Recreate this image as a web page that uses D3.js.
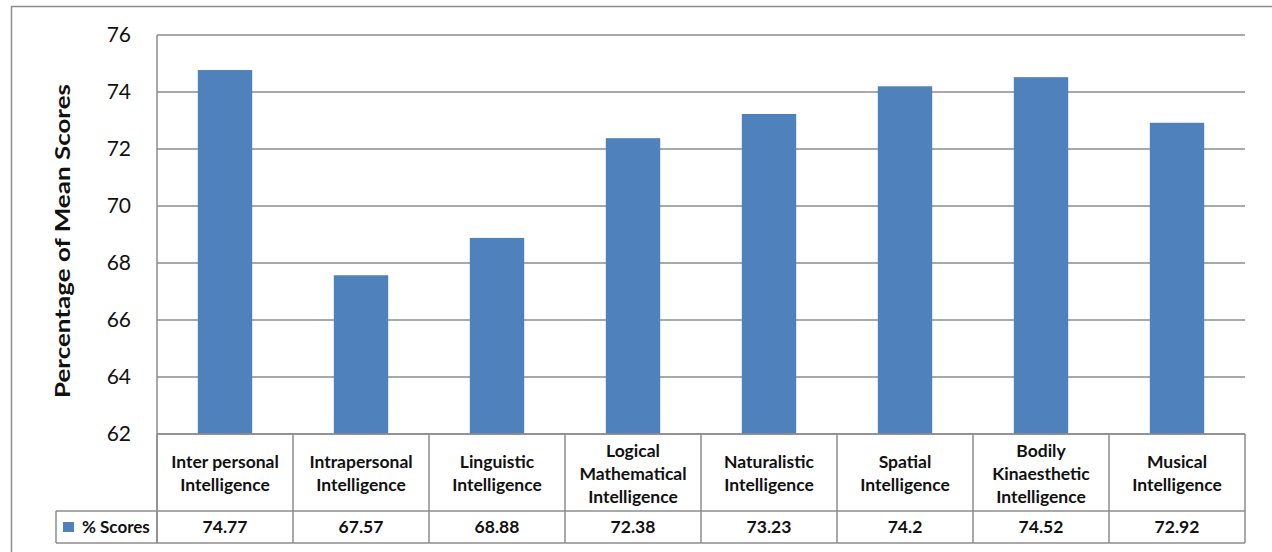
<!DOCTYPE html>
<html>
<head>
<meta charset="utf-8">
<script src="https://cdn.jsdelivr.net/npm/d3@7"></script>
<style>
  html, body { margin: 0; padding: 0; background: #fff; }
  svg { display: block; }
</style>
</head>
<body>
<svg id="chart" width="1272" height="552"></svg>
<script>
// Mean scores by intelligence type
const categories = [
  ["Inter personal", "Intelligence"],
  ["Intrapersonal", "Intelligence"],
  ["Linguistic", "Intelligence"],
  ["Logical", "Mathematical", "Intelligence"],
  ["Naturalistic", "Intelligence"],
  ["Spatial", "Intelligence"],
  ["Bodily", "Kinaesthetic", "Intelligence"],
  ["Musical", "Intelligence"]
];
const scores = [74.77, 67.57, 68.88, 72.38, 73.23, 74.2, 74.52, 72.92];
const scoreLabels = ["74.77", "67.57", "68.88", "72.38", "73.23", "74.2", "74.52", "72.92"];
const yTicks = [62, 64, 66, 68, 70, 72, 74, 76];
const seriesName = "% Scores";
const yTitle = "Percentage of Mean Scores";

const svg = d3.select("#chart");
const font = "Lato, 'Open Sans', sans-serif";
const lineColor = "#8c8c8c";
const barColor = "#4f81bd";
const textColor = "#111";

const plot = { left: 157, right: 1245, top: 35, bottom: 434 };
const table = { catBottom: 511, valBottom: 543, legendLeft: 56 };

// Outer chart frame
svg.append("rect")
  .attr("x", 11.5).attr("y", 6.5)
  .attr("width", 1270).attr("height", 560)
  .attr("fill", "none").attr("stroke", lineColor).attr("stroke-width", 1.5);

const x = d3.scaleBand()
  .domain(d3.range(categories.length))
  .range([plot.left, plot.right])
  .paddingInner(0.6).paddingOuter(0.3);

const y = d3.scaleLinear()
  .domain([62, 76])
  .range([plot.bottom, plot.top]);

// Horizontal gridlines
svg.append("g")
  .selectAll("line")
  .data(yTicks)
  .join("line")
  .attr("x1", plot.left).attr("x2", plot.right)
  .attr("y1", d => y(d)).attr("y2", d => y(d))
  .attr("stroke", lineColor).attr("stroke-width", 1.5);

// Y axis labels
const yAxis = d3.axisLeft(y).tickValues(yTicks).tickSize(0).tickPadding(0);
const yg = svg.append("g")
  .attr("transform", `translate(131,0)`)
  .call(yAxis);
yg.select(".domain").remove();
yg.selectAll("text")
  .attr("font-family", font)
  .attr("font-size", 21)
  .attr("fill", textColor);

// Y axis title
svg.append("text")
  .attr("transform", `translate(70,241) rotate(-90)`)
  .attr("text-anchor", "middle")
  .attr("font-family", font)
  .attr("font-weight", "bold")
  .attr("font-size", 21)
  .attr("textLength", 314)
  .attr("lengthAdjust", "spacingAndGlyphs")
  .attr("fill", textColor)
  .text(yTitle);

// Left border of plot area
svg.append("line")
  .attr("x1", plot.left).attr("x2", plot.left)
  .attr("y1", plot.top).attr("y2", table.valBottom)
  .attr("stroke", lineColor).attr("stroke-width", 1.5);

// Bars
svg.append("g")
  .selectAll("rect")
  .data(scores)
  .join("rect")
  .attr("x", (d, i) => x(i))
  .attr("width", x.bandwidth())
  .attr("y", d => y(d))
  .attr("height", d => y(62) - y(d))
  .attr("fill", barColor);

// Data table grid
const colW = x.step();
const colEdges = d3.range(categories.length + 1).map(i => plot.left + i * colW);
const grid = svg.append("g")
  .attr("stroke", lineColor).attr("stroke-width", 1.5);
grid.selectAll("line.v")
  .data(colEdges)
  .join("line")
  .attr("class", "v")
  .attr("x1", d => d).attr("x2", d => d)
  .attr("y1", plot.bottom).attr("y2", table.valBottom);
grid.append("line")
  .attr("x1", plot.left).attr("x2", plot.right)
  .attr("y1", plot.bottom).attr("y2", plot.bottom);
grid.append("line")
  .attr("x1", table.legendLeft).attr("x2", plot.right)
  .attr("y1", table.catBottom).attr("y2", table.catBottom);
grid.append("line")
  .attr("x1", table.legendLeft).attr("x2", plot.right)
  .attr("y1", table.valBottom).attr("y2", table.valBottom);
grid.append("line")
  .attr("x1", table.legendLeft).attr("x2", table.legendLeft)
  .attr("y1", table.catBottom).attr("y2", table.valBottom);

// Category labels
const catMid = (plot.bottom + table.catBottom) / 2 + 1;
const lineH = 23;
svg.append("g")
  .selectAll("text")
  .data(categories)
  .join("text")
  .attr("x", (d, i) => x(i) + x.bandwidth() / 2)
  .attr("text-anchor", "middle")
  .attr("font-family", font)
  .attr("font-weight", "bold")
  .attr("font-size", 17.5)
  .attr("fill", textColor)
  .each(function(lines) {
    const t = d3.select(this);
    const y0 = catMid - (lines.length - 1) * lineH / 2;
    lines.forEach((ln, k) => {
      t.append("tspan")
        .attr("x", t.attr("x"))
        .attr("y", y0 + k * lineH)
        .attr("dy", "0.35em")
        .text(ln);
    });
  });

// Value row
const valMid = (table.catBottom + table.valBottom) / 2;
svg.append("g")
  .selectAll("text")
  .data(scoreLabels)
  .join("text")
  .attr("x", (d, i) => x(i) + x.bandwidth() / 2)
  .attr("y", valMid)
  .attr("dy", "0.35em")
  .attr("text-anchor", "middle")
  .attr("font-family", font)
  .attr("font-weight", "bold")
  .attr("font-size", 17.5)
  .attr("fill", textColor)
  .text(d => d);

// Legend key in table
svg.append("rect")
  .attr("x", 63).attr("y", valMid - 5)
  .attr("width", 11).attr("height", 10)
  .attr("fill", barColor);
svg.append("text")
  .attr("x", 82).attr("y", valMid)
  .attr("dy", "0.35em")
  .attr("font-family", font)
  .attr("font-weight", "bold")
  .attr("font-size", 17)
  .attr("fill", textColor)
  .text(seriesName);
</script>
</body>
</html>
